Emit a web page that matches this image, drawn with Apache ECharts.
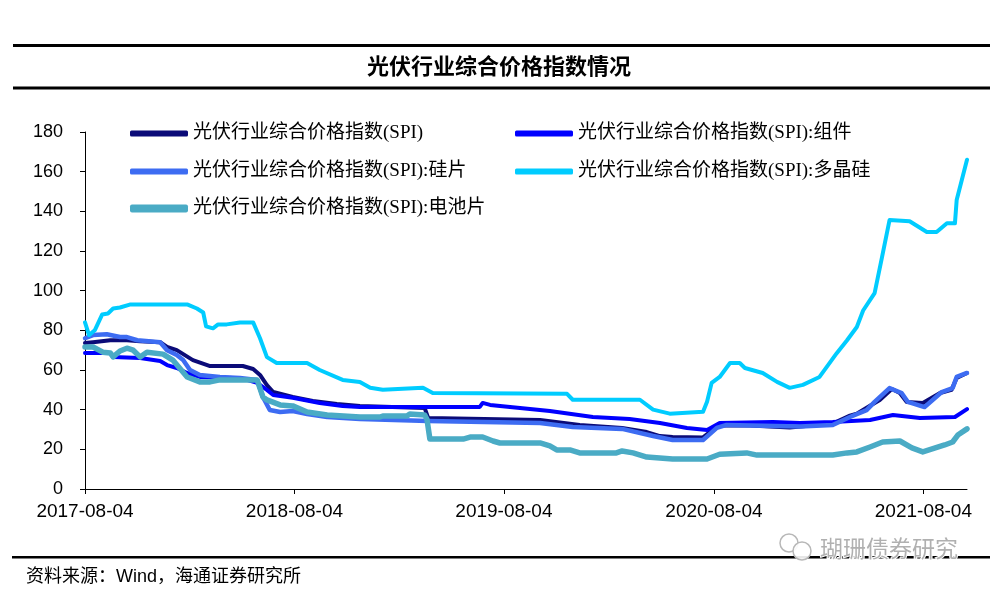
<!DOCTYPE html>
<html>
<head>
<meta charset="utf-8">
<script src="https://cdn.jsdelivr.net/npm/echarts@6/dist/echarts.min.js"></script>
<style>
html,body{margin:0;padding:0;background:#fff;}
#main{width:999px;height:592px;}
</style>
</head>
<body>
<div id="main"></div>
<script>
// ---------- data ----------
var seriesNames = [
  '光伏行业综合价格指数(SPI)',
  '光伏行业综合价格指数(SPI):组件',
  '光伏行业综合价格指数(SPI):硅片',
  '光伏行业综合价格指数(SPI):多晶硅',
  '光伏行业综合价格指数(SPI):电池片'
];
var xTickLabels = ['2017-08-04','2018-08-04','2019-08-04','2020-08-04','2021-08-04'];
var yTicks = [0, 20, 40, 60, 80, 100, 120, 140, 160, 180];

var spiDates = ['2017-08-04','2017-08-18','2017-09-17','2017-10-16','2017-11-08','2017-12-13','2017-12-25','2018-01-11','2018-02-08','2018-03-10','2018-05-06','2018-05-24','2018-06-05','2018-06-17','2018-06-28','2018-08-01','2018-09-05','2018-10-17','2018-11-26','2019-03-19','2019-03-25','2019-10-06','2019-12-14','2020-02-26','2020-04-09','2020-05-02','2020-05-24','2020-07-16','2020-07-28','2020-08-14','2020-10-06','2020-12-14','2021-02-27','2021-03-29','2021-04-10','2021-05-03','2021-05-20','2021-06-10','2021-06-24','2021-07-06','2021-08-03','2021-09-02','2021-09-22','2021-10-01','2021-10-19'];
var spiValues = [73.6,74,75,75,74.5,74,71.6,70,65,62,62,60.5,57.5,52.4,48.9,46.4,44.4,42.9,41.9,40.8,35.8,34.8,32.3,30.8,28.7,26.7,26.2,26,28.7,32,32,31,33,37,38,42,44.9,50.4,48.4,43.9,43.4,48.4,50,56,58.5];

var moduleDates = ['2017-08-04','2017-09-17','2017-09-22','2017-11-08','2017-12-13','2017-12-25','2018-01-11','2018-01-29','2018-02-20','2018-04-19','2018-05-13','2018-05-31','2018-06-17','2018-06-28','2018-08-01','2018-09-17','2018-10-27','2018-11-26','2019-06-23','2019-06-28','2019-07-11','2019-09-01','2019-10-23','2020-01-06','2020-03-10','2020-05-02','2020-06-18','2020-07-23','2020-08-14','2020-11-15','2021-01-01','2021-02-27','2021-05-03','2021-06-12','2021-07-29','2021-09-28','2021-10-19'];
var moduleValues = [68.6,68.6,66.5,66,64.5,62.5,61,58.5,56.5,56,55,53.5,50,47.4,46,43.4,41.9,41.4,41.4,43.4,42.4,40.8,39.3,36.3,35.3,33.3,30.8,29.8,33.3,33.8,33.3,33.8,34.8,37.3,35.8,36.3,40.3];

var waferDates = ['2017-08-04','2017-08-18','2017-09-11','2017-10-04','2017-10-16','2017-11-03','2017-12-13','2017-12-25','2018-01-11','2018-01-22','2018-02-03','2018-02-20','2018-03-27','2018-05-01','2018-05-31','2018-06-10','2018-06-22','2018-07-10','2018-08-01','2018-08-26','2018-09-30','2018-11-26','2019-03-25','2019-10-06','2019-12-02','2020-02-26','2020-04-20','2020-05-24','2020-07-16','2020-08-09','2020-08-26','2021-01-01','2021-02-27','2021-03-29','2021-04-27','2021-05-11','2021-06-06','2021-06-27','2021-07-08','2021-08-06','2021-09-05','2021-09-24','2021-10-01','2021-10-19'];
var waferValues = [76,77.6,78,76.6,76.6,75,74,70,67.6,65,60,57.5,56.5,56,55,46.4,39.8,38.8,39.3,37.8,36.3,35.3,34.3,33.3,31.3,30.3,26.7,24.7,24.7,30.8,32.3,31.5,32.3,36.3,39.8,43.9,50.9,48.4,43.9,41.3,48.9,50.9,56.5,58.5];

var polyDates = ['2017-08-04','2017-08-11','2017-08-21','2017-09-03','2017-09-13','2017-09-22','2017-10-04','2017-10-21','2018-01-30','2018-02-15','2018-02-26','2018-03-03','2018-03-15','2018-03-24','2018-04-08','2018-05-01','2018-05-24','2018-06-05','2018-06-17','2018-07-04','2018-08-26','2018-09-17','2018-10-27','2018-11-26','2018-12-14','2019-01-05','2019-03-16','2019-04-02','2019-11-22','2019-12-02','2020-03-28','2020-04-20','2020-05-19','2020-07-16','2020-07-23','2020-07-31','2020-08-14','2020-09-01','2020-09-18','2020-09-27','2020-10-28','2020-11-22','2020-12-14','2021-01-06','2021-02-04','2021-03-06','2021-03-24','2021-04-10','2021-04-21','2021-05-11','2021-05-24','2021-06-06','2021-07-11','2021-08-10','2021-08-27','2021-09-14','2021-09-28','2021-10-01','2021-10-19'];
var polyValues = [84,77.6,80,88,88.5,91,91.5,93,93,91,89,82,81,83,83,84,84,76,66.5,63.5,63.5,60,55,54,51,50,51,48.4,48,45,45,40,38,39,44,53.5,56.5,63.5,63.5,61,58.5,54,51,52.5,56.5,68.5,75,81.7,90,98.8,117,135.6,135,129.6,129.6,134,134,145.7,166];

var cellDates = ['2017-08-04','2017-08-18','2017-09-04','2017-09-17','2017-09-22','2017-10-04','2017-10-16','2017-10-27','2017-11-08','2017-11-20','2017-12-18','2018-01-04','2018-01-29','2018-02-20','2018-03-10','2018-03-27','2018-05-31','2018-06-10','2018-06-17','2018-07-10','2018-08-01','2018-08-26','2018-09-30','2018-11-26','2018-12-31','2019-01-05','2019-02-16','2019-02-21','2019-03-19','2019-03-23','2019-03-28','2019-05-25','2019-06-06','2019-06-28','2019-07-16','2019-07-28','2019-10-06','2019-10-23','2019-11-04','2019-11-27','2019-12-14','2020-02-16','2020-02-26','2020-03-16','2020-04-09','2020-05-24','2020-07-23','2020-08-14','2020-09-30','2020-10-18','2021-02-27','2021-03-24','2021-04-10','2021-05-03','2021-05-25','2021-06-24','2021-07-15','2021-08-03','2021-09-10','2021-09-24','2021-10-03','2021-10-19'];
var cellValues = [71.6,71.6,69,68.6,66.6,69.6,71,70,66.6,69,68,65,56.5,54,54,55,55,46.4,44.9,42.4,41.9,38.8,37.3,36.3,36.3,36.8,36.8,37.8,37.3,35,25.2,25.2,26.2,26.2,24.2,23.2,23.2,21.7,19.7,19.7,18.2,18.2,19.2,18.2,16.1,15.1,15.1,17.5,18.2,17.1,17.1,18.2,18.7,21.2,23.7,24.2,20.7,18.7,22.2,23.7,27.2,30.3];

// ---------- build ----------
var BASE = Date.parse(xTickLabels[0]);
var DAY = 86400000;
function dayOf(s){ return Math.round((Date.parse(s) - BASE) / DAY); }
function dateOf(d){
  var t = new Date(BASE + d * DAY);
  var m = t.getUTCMonth() + 1, dd = t.getUTCDate();
  return t.getUTCFullYear() + '-' + (m < 10 ? '0' : '') + m + '-' + (dd < 10 ? '0' : '') + dd;
}
function pairs(dates, vals){ return dates.map(function(d, i){ return [dayOf(d), vals[i]]; }); }

var xTickDays = xTickLabels.map(dayOf);
var xMax = dayOf(polyDates[polyDates.length - 1]);

var colors = ['#0b0b78', '#0000ff', '#3d6cf2', '#00ccff', '#4aabc5'];
var widths = [4, 4, 4.5, 4, 5.5];
var dataSets = [
  pairs(spiDates, spiValues),
  pairs(moduleDates, moduleValues),
  pairs(waferDates, waferValues),
  pairs(polyDates, polyValues),
  pairs(cellDates, cellValues)
];

var series = seriesNames.map(function(n, i){
  return {
    name: n, type: 'line', data: dataSets[i],
    showSymbol: false, symbol: 'none', smooth: false,
    lineStyle: { color: colors[i], width: widths[i], cap: 'round', join: 'round' },
    itemStyle: { color: colors[i] },
    z: 2 + i
  };
});

var legendFont = { fontSize: 19, color: '#000', fontFamily: "'Liberation Serif','Noto Sans CJK SC',serif" };
function legendOf(names, left, top, h){
  return {
    orient: 'vertical', left: left, top: top, data: names,
    icon: 'roundRect', itemWidth: 58, itemHeight: h, itemGap: 19,
    textStyle: legendFont, selectedMode: false, padding: 0
  };
}

var chart = echarts.init(document.getElementById('main'), null, { renderer: 'canvas' });
chart.setOption({
  animation: false,
  backgroundColor: '#fff',
  color: colors,
  grid: { left: 85, right: 32, top: 132, bottom: 103, containLabel: false },
  legend: [
    legendOf([seriesNames[0], seriesNames[2]], 130, 124, 6),
    legendOf([seriesNames[1], seriesNames[3]], 515, 124, 6),
    legendOf([seriesNames[4]], 130, 199, 8)
  ],
  xAxis: {
    type: 'value', min: 0, max: xMax,
    splitLine: { show: false },
    axisLine: { show: true, lineStyle: { color: '#000', width: 1 } },
    axisTick: { show: true, inside: false, length: 5, lineStyle: { color: '#000' }, customValues: xTickDays },
    axisLabel: {
      customValues: xTickDays, margin: 13,
      fontSize: 19, color: '#000', fontFamily: "'Liberation Sans', Arial, sans-serif",
      formatter: function(v){ return dateOf(v); }
    }
  },
  yAxis: {
    type: 'value', min: yTicks[0], max: yTicks[yTicks.length - 1], interval: 20,
    splitLine: { show: false },
    axisLine: { show: true, lineStyle: { color: '#000', width: 1 } },
    axisTick: { show: true, inside: false, length: 5, lineStyle: { color: '#000' } },
    axisLabel: { fontSize: 18, color: '#000', margin: 22, fontFamily: "'Liberation Sans', Arial, sans-serif" }
  },
  graphic: [
    { type: 'rect', shape: { x: 13, y: 44, width: 977, height: 3 }, style: { fill: '#000' }, silent: true },
    { type: 'text', x: 499, y: 66, style: { text: '光伏行业综合价格指数情况', fontSize: 22, fontWeight: 'bold', fontFamily: "'Noto Sans CJK SC'", fill: '#000', textAlign: 'center', textVerticalAlign: 'middle' }, silent: true },
    { type: 'rect', shape: { x: 13, y: 86.5, width: 977, height: 3 }, style: { fill: '#000' }, silent: true },
    { type: 'rect', shape: { x: 12, y: 556, width: 978, height: 2.5 }, style: { fill: '#000' }, silent: true },
    { type: 'text', x: 26, y: 577, style: { text: '资料来源：Wind，海通证券研究所', fontSize: 18, fontFamily: "'Liberation Sans','Noto Sans CJK SC'", fill: '#000', textAlign: 'left', textVerticalAlign: 'middle' }, silent: true },
    { type: 'circle', shape: { cx: 789, cy: 543, r: 9 }, style: { fill: 'rgba(255,255,255,0.9)', stroke: '#b8b8b8', lineWidth: 1.5 }, silent: true, z: 10 },
    { type: 'circle', shape: { cx: 802, cy: 551, r: 9 }, style: { fill: 'rgba(255,255,255,0.9)', stroke: '#b8b8b8', lineWidth: 1.5 }, silent: true, z: 10 },
    { type: 'text', x: 820, y: 548, style: { text: '瑚珊债券研究', fontSize: 23, fontFamily: "'Noto Sans CJK SC'", fill: '#b0b0b0', stroke: '#fff', lineWidth: 2, textAlign: 'left', textVerticalAlign: 'middle' }, silent: true, z: 10 }
  ],
  series: series
});
</script>
</body>
</html>
